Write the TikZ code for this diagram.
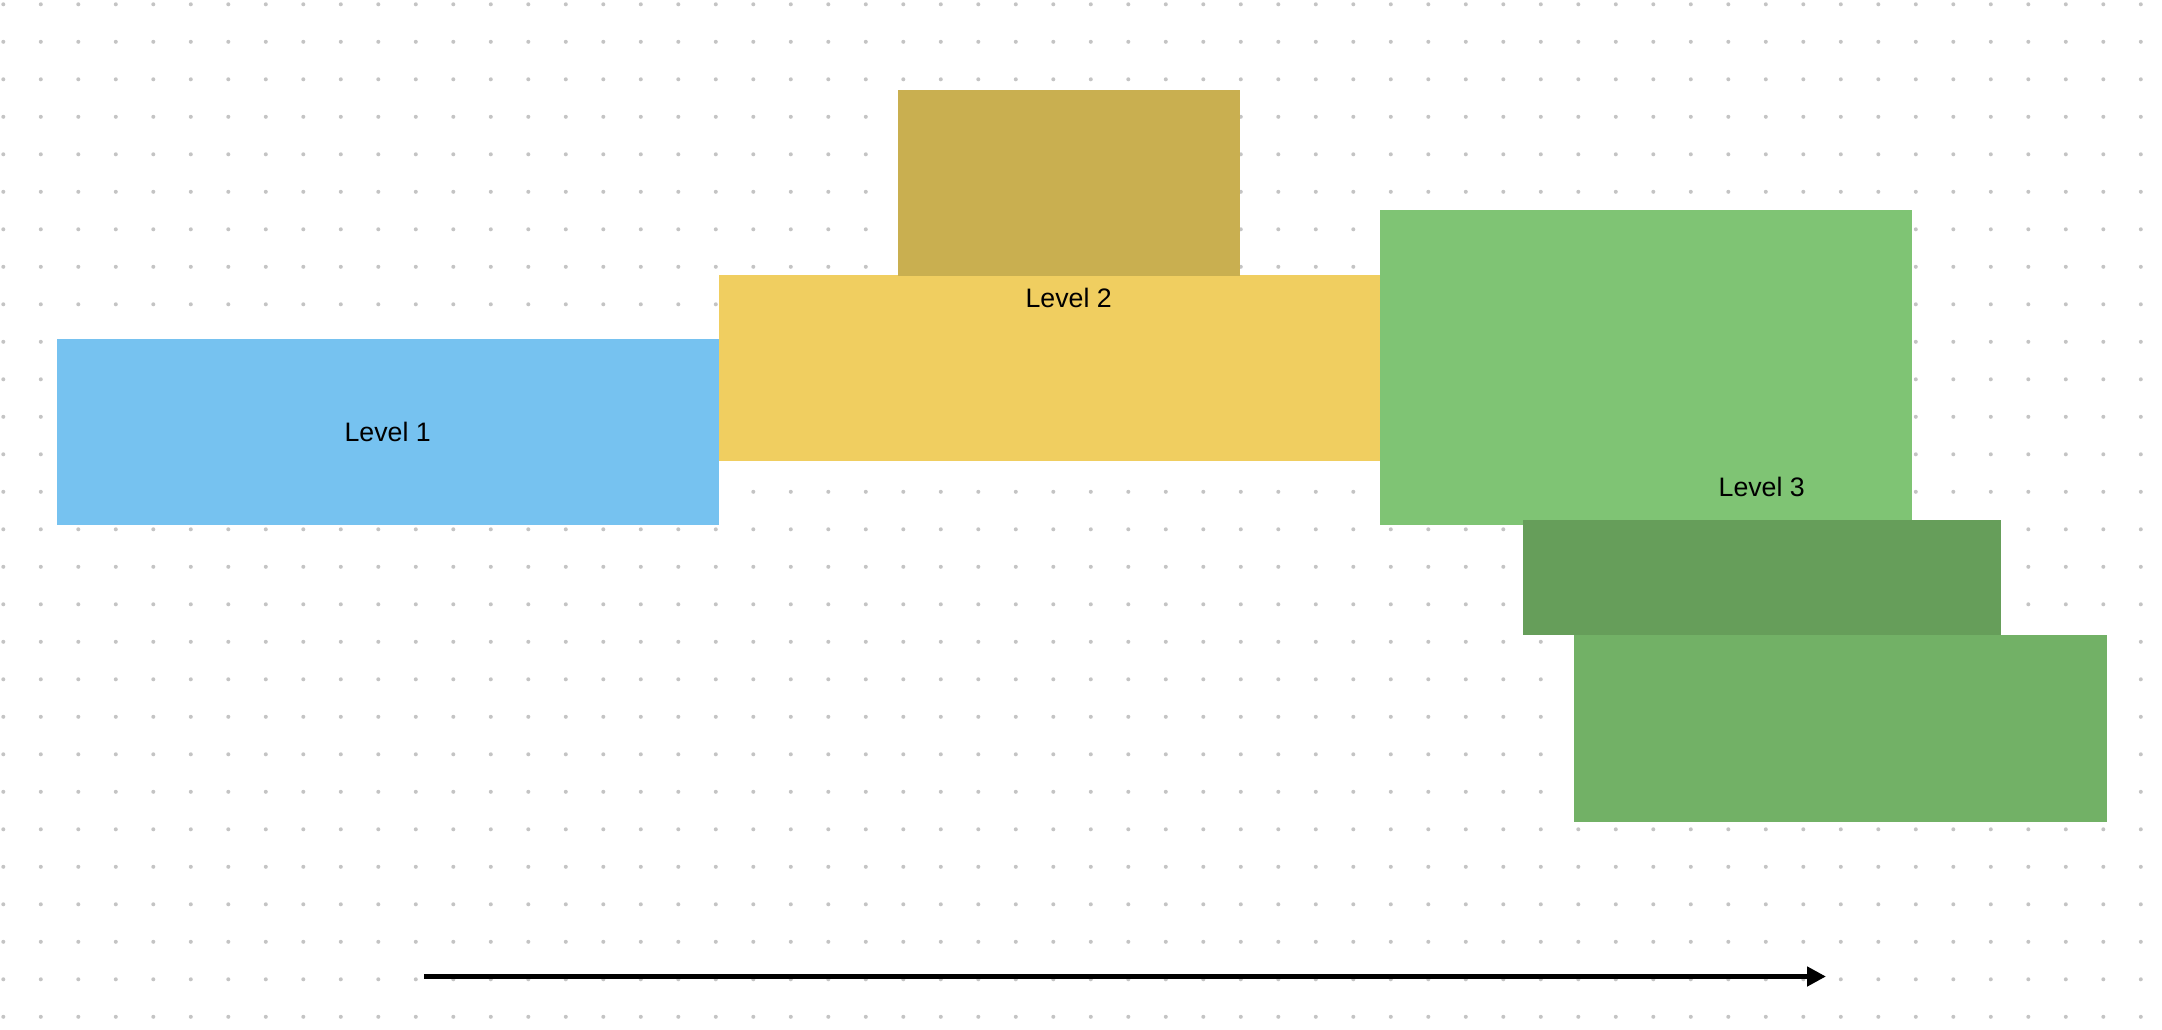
\documentclass[tikz,border=0pt]{standalone}
\usepackage{fontspec}
\setmainfont{Liberation Sans}
\usepackage{tikz}
\usetikzlibrary{positioning, arrows.meta}
\definecolor{lvlBlue}{RGB}{118,194,240}
\definecolor{lvlYellow}{RGB}{240,206,96}
\definecolor{lvlOlive}{RGB}{201,175,80}
\definecolor{lvlGreen}{RGB}{127,196,116}
\definecolor{lvlDarkGreen}{RGB}{102,158,90}
\definecolor{lvlMidGreen}{RGB}{114,177,102}
\definecolor{dotGray}{RGB}{196,196,196}
\tikzstyle{Block} = [rectangle, anchor=north west, inner sep = 0mm, draw=none, font=\fontsize{7.6}{9}\selectfont]
\tikzstyle{Lbl} = [inner sep = 0mm, font=\fontsize{7.6}{9}\selectfont]
\tikzstyle{Dot} = [fill=dotGray]

\begin{document}
\begin{tikzpicture}[x=0.1mm, y=-0.1mm]

    \useasboundingbox (0,0) rectangle (2162,1030);

    %%%%%%%%%%%%%%%%%%%%%%
    \foreach \i in {0,...,57}
        \foreach \j in {0,...,27}
            \fill[Dot] (3.3+37.5*\i, 4.3+37.5*\j) circle (0.2mm);

    %%%%%%%%%%%%%%%%%%%%%%
    \node[Block, fill=lvlBlue, minimum width=66.2mm, minimum height=18.6mm] (lvl1) at (56,338) {Level 1};
    \node[Block, fill=lvlYellow, minimum width=66.1mm, minimum height=18.6mm] (lvl2) at (718,274) {};
    \node[Block, fill=lvlOlive, minimum width=34.2mm, minimum height=18.6mm] (lvl2top) at (897,89) {};
    \node[Lbl] (lbl2) [below=1.1mm of lvl2top] {Level 2};

    \node[Block, fill=lvlGreen, minimum width=53.2mm, minimum height=31.5mm] (lvl3) at (1379,209) {};
    \node[Block, fill=lvlDarkGreen, minimum width=47.8mm, minimum height=11.5mm] (lvl3mid) at (1522,519) {};
    \node[Block, fill=lvlMidGreen, minimum width=53.3mm, minimum height=18.7mm] (lvl3low) at (1573,634) {};
    \node[Lbl] (lbl3) [above=2.2mm of lvl3mid] {Level 3};

    %%%%%%%%%%%%%%%%%%%%%%
    \coordinate (tStart) at (424,976.5);
    \coordinate (tEnd) at (1826,976.5);
    \draw[-{Triangle[length=1.9mm, width=1.9mm]}, line width=0.5mm] (tStart) -- (tEnd);

\end{tikzpicture}
\end{document}
